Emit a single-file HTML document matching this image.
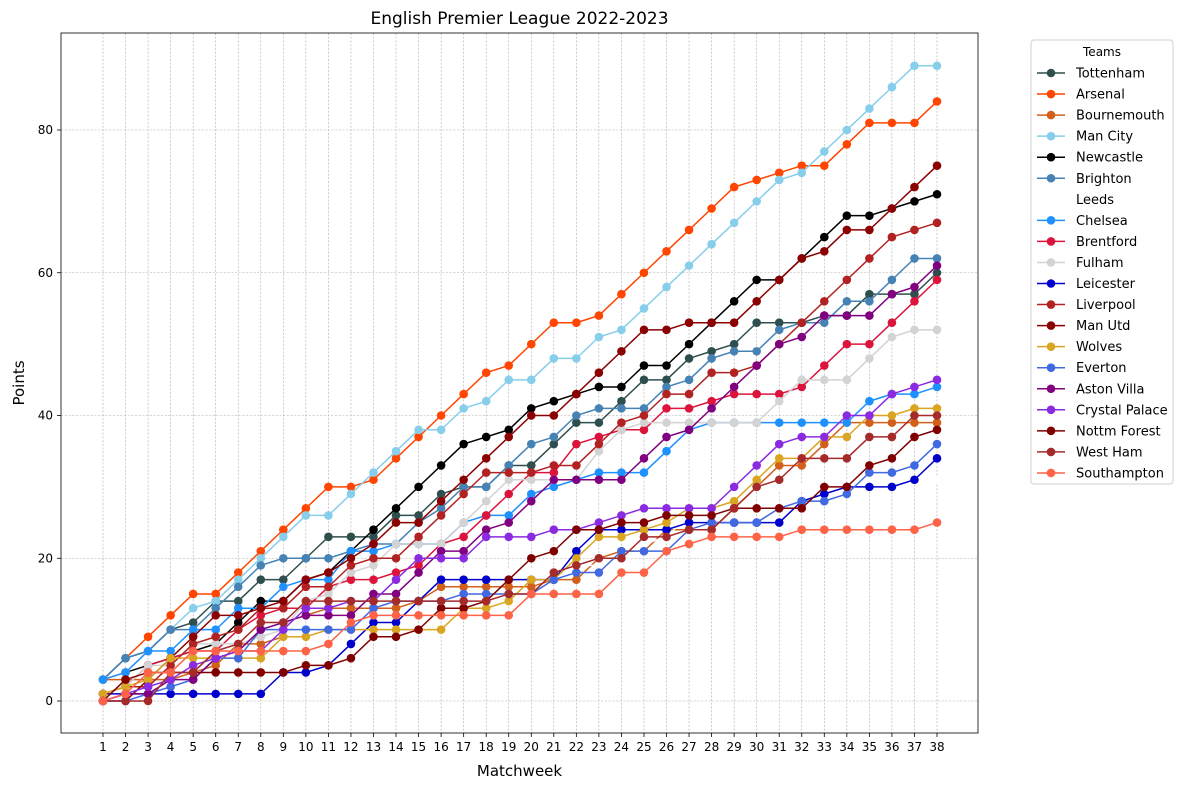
<!DOCTYPE html>
<html><head><meta charset="utf-8"><style>
body{margin:0;background:#fff;font-family:"Liberation Sans","DejaVu Sans",sans-serif}
svg text{font-family:"DejaVu Sans","Liberation Sans",sans-serif}
</style></head><body>
<svg id="chart" width="1189" height="790" xmlns="http://www.w3.org/2000/svg">
<rect x="0" y="0" width="1189" height="790" fill="#fff"/>
<g id="grid"></g><g id="series"></g><g id="axes"></g><g id="legend"></g>
</svg>
<script>
const weeks=[1,2,3,4,5,6,7,8,9,10,11,12,13,14,15,16,17,18,19,20,21,22,23,24,25,26,27,28,29,30,31,32,33,34,35,36,37,38];
const yTicks=[0,20,40,60,80];
const teams=["Tottenham","Arsenal","Bournemouth","Man City","Newcastle","Brighton","Leeds","Chelsea","Brentford","Fulham","Leicester","Liverpool","Man Utd","Wolves","Everton","Aston Villa","Crystal Palace","Nottm Forest","West Ham","Southampton"];
const colors=["#2F4F4F","#FF4500","#D2601A","#87CEEB","#000000","#4682B4","#FFFFFF","#1E90FF","#DC143C","#D3D3D3","#0000CD","#B22222","#8B0000","#DAA520","#4169E1","#800080","#8A2BE2","#800000","#A52A2A","#FF6347"];
const tottenham=[3,6,7,10,11,14,14,17,17,20,23,23,23,26,26,29,30,30,33,33,36,39,39,42,45,45,48,49,50,53,53,53,54,54,57,57,57,60];
const arsenal=[3,6,9,12,15,15,18,21,24,27,30,30,31,34,37,40,43,46,47,50,53,53,54,57,60,63,66,69,72,73,74,75,75,78,81,81,81,84];
const bournemouth=[3,3,3,3,4,5,8,8,9,12,13,13,13,13,14,16,16,16,16,16,17,17,20,21,21,24,24,24,27,30,33,33,36,39,39,39,39,39];
const mancity=[3,6,7,10,13,14,17,20,23,26,26,29,32,35,38,38,41,42,45,45,48,48,51,52,55,58,61,64,67,70,73,74,77,80,83,86,89,89];
const newcastle=[3,4,5,6,7,8,11,14,14,17,18,21,24,27,30,33,36,37,38,41,42,43,44,44,47,47,50,53,56,59,59,62,65,68,68,69,70,71];
const brighton=[3,6,7,10,10,13,16,19,20,20,20,21,22,22,25,27,30,30,33,36,37,40,41,41,41,44,45,48,49,49,52,53,53,56,56,59,62,62];
const leeds=[3,4,7,7,8,8,8,9,9,12,15,15,15,16,17,17,18,18,18,18,18,19,19,19,22,23,26,26,29,30,30,30,30,30,31,31,31,31];
const chelsea=[3,4,7,7,10,10,13,13,16,17,17,21,21,22,22,22,25,26,26,29,30,31,32,32,32,35,38,39,39,39,39,39,39,39,42,43,43,44];
const brentford=[1,2,5,6,7,7,10,12,13,13,16,17,17,18,19,22,23,26,29,32,32,36,37,38,38,41,41,42,43,43,43,44,47,50,50,53,56,59];
const fulham=[1,2,5,5,8,8,8,9,10,14,15,18,19,22,22,22,25,28,31,31,31,31,35,38,39,39,39,39,39,39,42,45,45,45,48,51,52,52];
const leicester=[1,1,1,1,1,1,1,1,4,4,5,8,11,11,14,17,17,17,17,17,17,21,24,24,24,24,25,25,25,25,25,28,29,30,30,30,31,34];
const liverpool=[1,2,2,5,8,9,10,13,13,16,16,19,20,20,23,26,29,32,32,32,33,33,36,39,40,43,43,46,46,47,50,53,56,59,62,65,66,67];
const manutd=[0,0,3,6,9,12,12,13,14,17,18,20,22,25,25,28,31,34,37,40,40,43,46,49,52,52,53,53,53,56,59,62,63,66,66,69,72,75];
const wolves=[1,2,3,6,6,6,6,6,9,9,10,10,10,10,10,10,13,13,14,17,17,20,23,23,24,25,27,27,28,31,34,34,37,37,40,40,41,41];
const everton=[0,0,1,2,3,6,6,10,10,10,10,10,13,14,14,14,15,15,15,15,17,18,18,21,21,21,24,25,25,25,27,28,28,29,32,32,33,36];
const astonvilla=[0,1,1,3,3,6,7,10,11,12,12,12,15,15,18,21,21,24,25,28,31,31,31,31,34,37,38,41,44,47,50,51,54,54,54,57,58,61];
const palace=[0,1,2,3,5,6,7,7,10,13,13,14,14,17,20,20,20,23,23,23,24,24,25,26,27,27,27,27,30,33,36,37,37,40,40,43,44,45];
const forest=[0,3,4,4,4,4,4,4,4,5,5,6,9,9,10,13,13,14,17,20,21,24,24,25,25,26,26,26,27,27,27,27,30,30,33,34,37,38];
const westham=[0,0,0,4,4,7,8,11,11,14,14,14,14,14,14,14,14,14,15,15,18,19,20,20,23,23,24,24,27,30,31,34,34,34,37,37,40,40];
const southampton=[0,1,4,4,7,7,7,7,7,7,8,11,12,12,12,12,12,12,12,15,15,15,15,18,18,21,22,23,23,23,23,24,24,24,24,24,24,25];
const allSeries=[tottenham,arsenal,bournemouth,mancity,newcastle,brighton,leeds,chelsea,brentford,fulham,leicester,liverpool,manutd,wolves,everton,astonvilla,palace,forest,westham,southampton];

const NS="http://www.w3.org/2000/svg";
const X0=61,X1=978,Y0=33,Y1=733;
function xS(w){return 103+(w-1)*(937-103)/37;}
function yS(v){return 701-v*(701-130)/80;}
function mk(tag,attrs,parent){const e=document.createElementNS(NS,tag);for(const k in attrs)e.setAttribute(k,attrs[k]);parent.appendChild(e);return e;}
const grid=document.getElementById('grid'),axes=document.getElementById('axes'),ser=document.getElementById('series'),leg=document.getElementById('legend');
weeks.forEach(w=>{
  const l=mk('line',{x1:xS(w),x2:xS(w),y1:Y0,y2:Y1,stroke:'#b0b0b0','stroke-width':0.6,'stroke-dasharray':'2.2,1.5'},grid);
  
  
  mk('line',{x1:xS(w),x2:xS(w),y1:Y1,y2:Y1+4,stroke:'#000','stroke-width':0.8},axes);
  const t=mk('text',{x:xS(w),y:Y1+18,'text-anchor':'middle','font-size':12,fill:'#000'},axes);t.textContent=w;
  
  
});
yTicks.forEach(v=>{
  const l=mk('line',{x1:X0,x2:X1,y1:yS(v),y2:yS(v),stroke:'#b0b0b0','stroke-width':0.6,'stroke-dasharray':'2.2,1.5'},grid);
  
  
  mk('line',{x1:X0-4,x2:X0,y1:yS(v),y2:yS(v),stroke:'#000','stroke-width':0.8},axes);
  const t=mk('text',{x:X0-8,y:yS(v)+4,'text-anchor':'end','font-size':12,fill:'#000'},axes);t.textContent=v;
  
  
});
const frame=mk('rect',{x:X0,y:Y0,width:X1-X0,height:Y1-Y0,fill:'none',stroke:'#000','stroke-width':0.8},axes);


const title=mk('text',{x:(X0+X1)/2,y:24,'text-anchor':'middle','font-size':17,fill:'#000'},axes);title.textContent='English Premier League 2022-2023';


const xt=mk('text',{x:(X0+X1)/2,y:776,'text-anchor':'middle','font-size':15,fill:'#000'},axes);xt.textContent='Matchweek';


const yt=mk('text',{x:24,y:(Y0+Y1)/2,'text-anchor':'middle','font-size':15,fill:'#000',transform:'rotate(-90 24 '+((Y0+Y1)/2)+')'},axes);yt.textContent='Points';



allSeries.forEach((vals,i)=>{
  const g=mk('g',{},ser);
  
  
  const pts=vals.map((v,j)=>xS(weeks[j])+','+yS(v)).join(' ');
  mk('polyline',{points:pts,fill:'none',stroke:colors[i],'stroke-width':1.5},g);
  vals.forEach((v,j)=>{
    const c=mk('circle',{cx:xS(weeks[j]),cy:yS(v),r:4.3,fill:colors[i]},g);
    
    
  });
});

const box=mk('rect',{x:1031,y:40,width:142,height:444,rx:3,fill:'#fff',stroke:'#d0d0d0','stroke-width':1},leg);


const lt=mk('text',{x:1102,y:56,'text-anchor':'middle','font-size':12,fill:'#000'},leg);lt.textContent='Teams';


teams.forEach((t,i)=>{
  const y=73+i*21.05;
  const g=mk('g',{},leg);
  
  
  mk('line',{x1:1037,x2:1065,y1:y,y2:y,stroke:colors[i],'stroke-width':1.5},g);
  mk('circle',{cx:1051,cy:y,r:4.3,fill:colors[i]},g);
  const tx=mk('text',{x:1076,y:y+4.5,'font-size':13,fill:'#000'},g);tx.textContent=t;
});
</script>
</body></html>
